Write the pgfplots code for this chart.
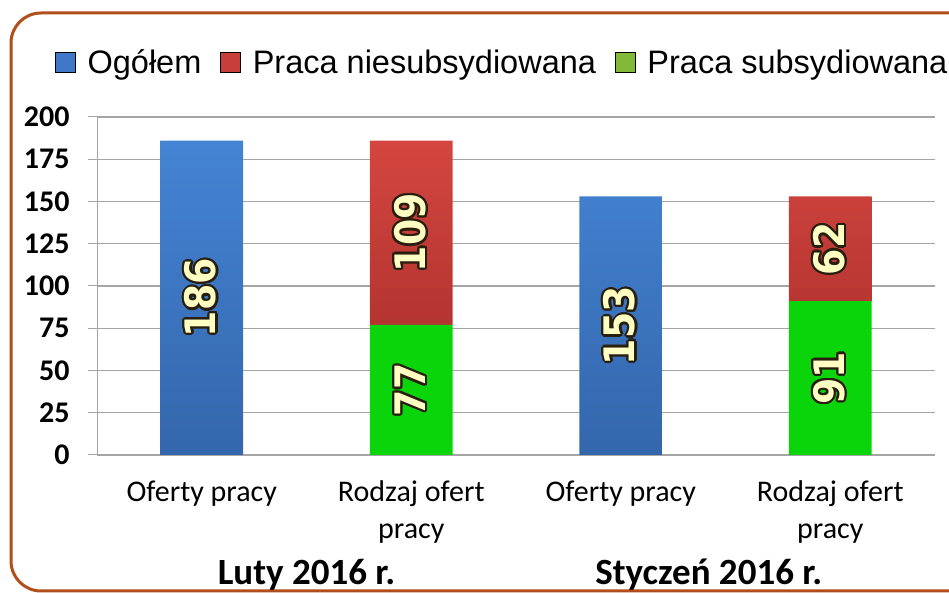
\documentclass[border=0pt]{standalone}
\usepackage{pgfplots}
\pgfplotsset{compat=1.18}
\usepackage{fontspec}
\setmainfont{Carlito}
\newfontfamily\arialf{Liberation Sans}
\newfontfamily\valf{DejaVu Sans Condensed}
\usepackage{contour}
\contourlength{2.2pt}
\definecolor{barblue}{RGB}{62,120,198}
\definecolor{barbluetop}{RGB}{68,132,212}
\definecolor{barbluebot}{RGB}{52,102,172}
\definecolor{barred}{RGB}{200,62,58}
\definecolor{barredtop}{RGB}{212,70,64}
\definecolor{barredbot}{RGB}{180,52,48}
\definecolor{bargreen}{RGB}{10,212,10}
\definecolor{legreen}{RGB}{132,184,56}
\definecolor{framec}{RGB}{178,78,28}
\definecolor{gridc}{RGB}{165,165,165}
\definecolor{valc}{RGB}{255,255,195}
\definecolor{glowc}{RGB}{40,30,15}
\pgfplotsset{sqlegend/.style={legend image code/.code={\fill[##1] (0pt,-10pt) rectangle (20pt,10pt);}}}
\begin{document}
\begin{tikzpicture}[x=1pt,y=1pt]
\clip (0,0) rectangle (949,593);
\draw[framec, line width=3pt, rounded corners=30pt] (11,2) rectangle (1000,580);
\begin{axis}[
  at={(97pt,138pt)}, anchor=south west,
  scale only axis, width=838pt, height=338pt,
  xmin=-0.5, xmax=3.5, ymin=0, ymax=200,
  ytick={0,25,...,200},
  xtick={0,1,2,3},
  xticklabels={Oferty pracy,{Rodzaj ofert\\pracy},Oferty pracy,{Rodzaj ofert\\pracy}},
  x tick style={draw=none},
  extra x ticks={-0.5,0.5,1.5,2.5,3.5},
  extra x tick labels={},
  extra x tick style={major tick length=12pt, tick style={draw=gridc, line width=1pt}},
  axis lines*=left,
  axis line style={gridc, line width=1pt},
  ymajorgrids, grid style={gridc, line width=1.2pt},
  tick align=outside, major tick length=9pt,
  y tick style={draw=gridc, line width=1pt},
  /pgf/number format/assume math mode=true,
  yticklabel style={font=\bfseries\fontsize{30}{30}\selectfont, xshift=-15pt},
  xticklabel style={font=\fontsize{30}{37}\selectfont, align=center, anchor=north, yshift=-13pt},
  ybar stacked, bar width=0.396,
  legend columns=3,
  legend style={draw=none, fill=none, at={(0,1)}, anchor=west, xshift=-45pt, yshift=55pt,
    font=\arialf\fontsize{32.5}{32.5}\selectfont,
    /tikz/every odd column/.append style={column sep=10pt},
    /tikz/every even column/.append style={column sep=17pt}},
  clip=false,
]
\addplot[top color=barbluetop, bottom color=barbluebot, draw=none, forget plot] coordinates {(0,186) (1,0) (2,153) (3,0)};
\addplot[fill=bargreen, draw=none, forget plot] coordinates {(0,0) (1,77) (2,0) (3,91)};
\addplot[top color=barredtop, bottom color=barredbot, draw=none, forget plot] coordinates {(0,0) (1,109) (2,0) (3,62)};
\addlegendimage{sqlegend, fill=barblue}
\addlegendentry{Ogółem}
\addlegendimage{sqlegend, fill=barred}
\addlegendentry{Praca niesubsydiowana}
\addlegendimage{sqlegend, fill=legreen}
\addlegendentry{Praca subsydiowana}
\node[font=\bfseries\fontsize{37}{37}\selectfont] at (axis cs:0.5,0) [yshift=-120pt] {Luty 2016 r.};
\node[font=\bfseries\fontsize{37}{37}\selectfont] at (axis cs:2.42,0) [yshift=-120pt] {Styczeń 2016 r.};
\end{axis}
\begin{axis}[
  at={(97pt,138pt)}, anchor=south west,
  scale only axis, width=838pt, height=338pt,
  xmin=-0.5, xmax=3.5, ymin=0, ymax=200,
  hide axis, clip=false,
]
\addplot[draw=none, mark=none, nodes near coords={\contour{glowc}{\pgfplotspointmeta}},
  point meta=explicit symbolic,
  every node near coord/.style={anchor=center, rotate=90, text=valc,
    font=\valf\bfseries\fontsize{42}{42}\selectfont}]
  coordinates {(0,93)[186] (1,38.5)[77] (1,131.5)[109] (2,76.5)[153] (3,45.5)[91] (3,122)[62]};
\end{axis}
\end{tikzpicture}
\end{document}
